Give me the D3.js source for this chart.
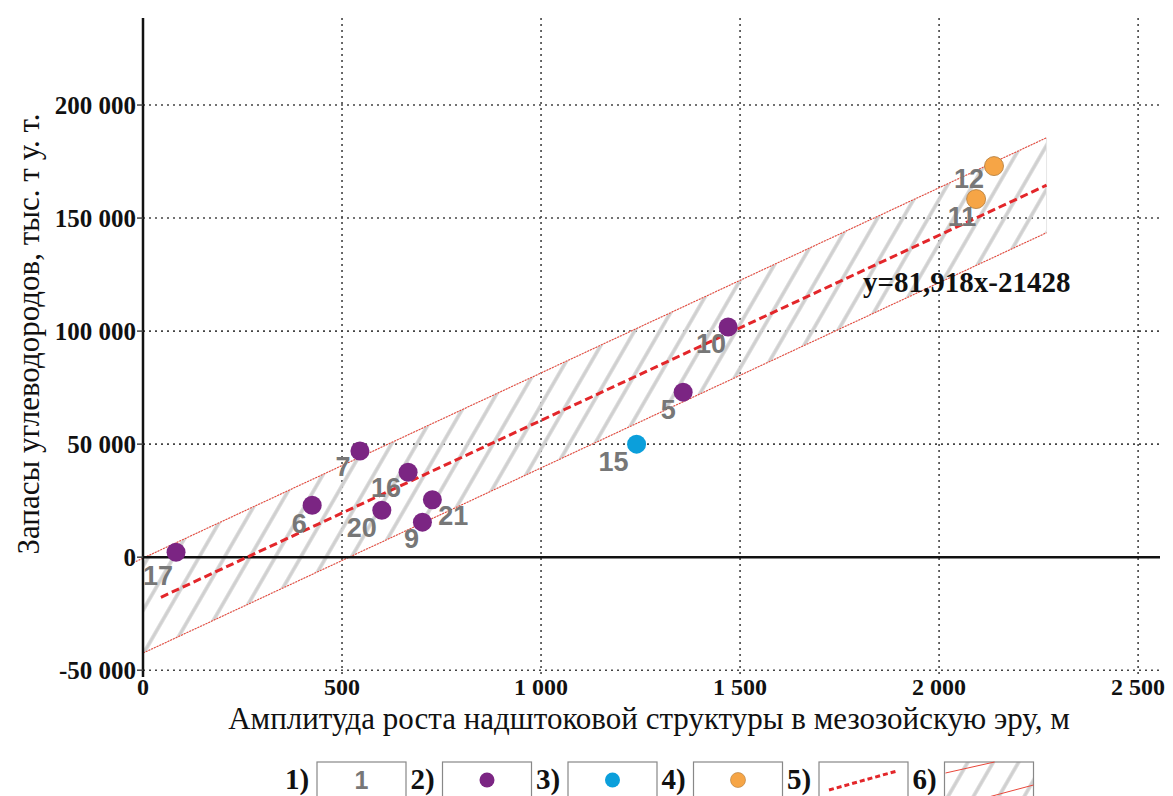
<!DOCTYPE html>
<html>
<head>
<meta charset="utf-8">
<script src="https://cdn.jsdelivr.net/npm/d3@7"></script>
<style>
    body { margin: 0; background: #fff; }
    .tick-label { font-family: "Liberation Serif", serif; font-weight: bold; fill: #111; }
    .title { font-family: "Liberation Serif", serif; fill: #111; }
    .pt-label { font-family: "Liberation Sans", Arial, sans-serif; font-weight: bold; fill: #777; }
    .grid line { stroke: #444; stroke-width: 1.6; stroke-dasharray: 2,4; }
</style>
</head>
<body>
<svg id="chart" width="1173" height="796"></svg>
<script>
// field numbers, amplitude (m), reserves (thousand t), group
let fieldIds = ["17", "6", "7", "16", "20", "21", "9", "5", "15", "10", "11", "12"];
let amplitude = [83, 425, 545, 666, 600, 727, 702, 1357, 1240, 1470, 2093, 2138];
let reserves = [2200, 23000, 47000, 37600, 20800, 25400, 15500, 73000, 50000, 101800, 158400, 173000];
let groups = ["2", "2", "2", "2", "2", "2", "2", "2", "3", "2", "4", "4"];

let xTicks = [0, 500, 1000, 1500, 2000, 2500];
let yTicks = [-50000, 0, 50000, 100000, 150000, 200000];

// regression y = 81.918x - 21428 and its band
let slope = 81.918;
let intercept = -21428;
let bandHalf = 21000;
let fitRange = [45, 2270];
let bandRange = [0, 2270];

let legendNames = ["1)", "2)", "3)", "4)", "5)", "6)"];

let groupColor = { "2": "#7b2583", "3": "#0b9fdb", "4": "#f6a546" };

let svg = d3.select("#chart");

let x = d3.scaleLinear().domain([0, 2555]).range([143, 1160]);
let y = d3.scaleLinear().domain([-53000, 238500]).range([677, 18]);

let fmt = function(v) {
    return d3.format(",")(v).replace(/,/g, " ").replace("−", "-");
};

// hatch pattern
let defs = svg.append("defs");
defs.append("pattern")
    .attr("id", "hatch")
    .attr("patternUnits", "userSpaceOnUse")
    .attr("width", 22)
    .attr("height", 22)
    .attr("patternTransform", "rotate(30)")
    .append("line")
    .attr("x1", 11).attr("y1", 0)
    .attr("x2", 11).attr("y2", 22)
    .attr("stroke", "#cfcfcf")
    .attr("stroke-width", 3.5);

// grid
let grid = svg.append("g").attr("class", "grid");
grid.selectAll(".vg")
    .data(xTicks.filter(d => d > 0))
    .enter().append("line")
    .attr("x1", d => x(d)).attr("x2", d => x(d))
    .attr("y1", y.range()[1]).attr("y2", y.range()[0]);
grid.selectAll(".hg")
    .data(yTicks.filter(d => d != 0))
    .enter().append("line")
    .attr("x1", x(0)).attr("x2", x.range()[1])
    .attr("y1", d => y(d)).attr("y2", d => y(d));

// confidence band
let bandTop = bandRange.map(v => [v, slope * v + intercept + bandHalf]);
let bandBottom = bandRange.map(v => [v, slope * v + intercept - bandHalf]).reverse();
svg.append("path")
    .attr("d", d3.line().x(d => x(d[0])).y(d => y(d[1]))(bandTop.concat(bandBottom)) + "Z")
    .attr("fill", "url(#hatch)")
    .attr("stroke", "#e6e6e6")
    .attr("stroke-width", 1);

let bandLines = [
    [[-25, slope * -25 + intercept + bandHalf], bandTop[1]],
    [[0, slope * 0 + intercept - bandHalf], bandBottom[0]]
];
svg.selectAll(".band")
    .data(bandLines)
    .enter().append("line")
    .attr("x1", d => x(d[0][0])).attr("y1", d => y(d[0][1]))
    .attr("x2", d => x(d[1][0])).attr("y2", d => y(d[1][1]))
    .attr("stroke", "#e8473a")
    .attr("stroke-width", 1.1)
    .attr("stroke-dasharray", "2,1");

// axes
svg.append("line")
    .attr("x1", x(0)).attr("x2", x(0))
    .attr("y1", y.range()[1]).attr("y2", y.range()[0])
    .attr("stroke", "#111").attr("stroke-width", 2.5);
svg.append("line")
    .attr("x1", x(0)).attr("x2", x.range()[1])
    .attr("y1", y(0)).attr("y2", y(0))
    .attr("stroke", "#111").attr("stroke-width", 2.5);

svg.selectAll(".ytick")
    .data(yTicks)
    .enter().append("line")
    .attr("x1", x(0) - 6).attr("x2", x(0))
    .attr("y1", d => y(d)).attr("y2", d => y(d))
    .attr("stroke", "#444").attr("stroke-width", 1.5);

svg.selectAll(".ylab")
    .data(yTicks)
    .enter().append("text")
    .attr("class", "tick-label")
    .attr("x", x(0) - 7)
    .attr("y", d => y(d))
    .attr("dy", "0.36em")
    .attr("text-anchor", "end")
    .style("font-size", "25px")
    .text(d => fmt(d));

svg.selectAll(".xlab")
    .data(xTicks)
    .enter().append("text")
    .attr("class", "tick-label")
    .attr("x", d => x(d))
    .attr("y", 695)
    .attr("text-anchor", "middle")
    .style("font-size", "24px")
    .text(d => fmt(d));

// titles
svg.append("text")
    .attr("class", "title")
    .attr("x", 649)
    .attr("y", 729)
    .attr("text-anchor", "middle")
    .style("font-size", "31px")
    .text("Амплитуда роста надштоковой структуры в мезозойскую эру, м");

svg.append("text")
    .attr("class", "title")
    .attr("transform", "translate(39,334) rotate(-90)")
    .attr("text-anchor", "middle")
    .style("font-size", "31px")
    .text("Запасы углеводородов, тыс. т у. т.");

// regression line
svg.append("line")
    .attr("x1", x(fitRange[0])).attr("y1", y(slope * fitRange[0] + intercept))
    .attr("x2", x(fitRange[1])).attr("y2", y(slope * fitRange[1] + intercept))
    .attr("stroke", "#e3262a")
    .attr("stroke-width", 3)
    .attr("stroke-dasharray", "8,4");

svg.append("text")
    .attr("class", "tick-label")
    .attr("x", 863)
    .attr("y", 292)
    .style("font-size", "29px")
    .text("y=81,918x-21428");

// points
let points = fieldIds.map(function(id, i) {
    return { id: id, x: amplitude[i], y: reserves[i], group: groups[i] };
});

// label offsets from the point centre, px
let labelShift = {
    "17": [-18, 23], "6": [-13, 18], "7": [-17, 16], "16": [-22, 15],
    "20": [-20, 17], "21": [21, 16], "9": [-11, 16], "5": [-15, 17],
    "15": [-23, 17], "10": [-17, 17], "11": [-14, 17], "12": [-25, 12]
};

svg.selectAll(".pt")
    .data(points)
    .enter().append("circle")
    .attr("cx", d => x(d.x))
    .attr("cy", d => y(d.y))
    .attr("r", 9.5)
    .attr("fill", d => groupColor[d.group])
    .attr("stroke", d => d.group == "4" ? "#b07a3a" : "none")
    .attr("stroke-width", 0.8);

svg.selectAll(".pt-label")
    .data(points)
    .enter().append("text")
    .attr("class", "pt-label")
    .attr("x", d => x(d.x) + labelShift[d.id][0])
    .attr("y", d => y(d.y) + labelShift[d.id][1])
    .attr("dy", "0.35em")
    .attr("text-anchor", "middle")
    .style("font-size", "27px")
    .text(d => d.id);

// legend
let legend = svg.append("g");
let step = 125.5;
let items = legend.selectAll("g")
    .data(legendNames)
    .enter().append("g")
    .attr("transform", (d, i) => "translate(" + (285 + i * step) + ",0)");

items.append("text")
    .attr("class", "tick-label")
    .attr("x", 0)
    .attr("y", 789)
    .style("font-size", "29px")
    .text(d => d);

items.append("rect")
    .attr("x", 32).attr("y", 762)
    .attr("width", 89).attr("height", 44)
    .attr("fill", d => d == "6)" ? "url(#hatch)" : "#fff")
    .attr("stroke", "#888").attr("stroke-width", 1.2);

let cx = 32 + 44.5;
items.filter(d => d == "1)").append("text")
    .attr("class", "pt-label")
    .attr("x", cx).attr("y", 789)
    .attr("text-anchor", "middle")
    .style("font-size", "25px")
    .text("1");

let dotGroups = { "2)": "2", "3)": "3", "4)": "4" };
items.filter(d => dotGroups[d]).append("circle")
    .attr("cx", cx).attr("cy", 780)
    .attr("r", 7.5)
    .attr("fill", d => groupColor[dotGroups[d]])
    .attr("stroke", d => d == "4)" ? "#b07a3a" : "none")
    .attr("stroke-width", 0.6);

items.filter(d => d == "5)").append("line")
    .attr("x1", 42).attr("y1", 790)
    .attr("x2", 110).attr("y2", 771)
    .attr("stroke", "#e3262a")
    .attr("stroke-width", 3)
    .attr("stroke-dasharray", "5,3");

let hatchItem = items.filter(d => d == "6)");
hatchItem.append("line")
    .attr("x1", 33).attr("y1", 773).attr("x2", 82).attr("y2", 762)
    .attr("stroke", "#e8473a").attr("stroke-width", 1);
hatchItem.append("line")
    .attr("x1", 76).attr("y1", 797).attr("x2", 121).attr("y2", 785)
    .attr("stroke", "#e8473a").attr("stroke-width", 1);
</script>
</body>
</html>
